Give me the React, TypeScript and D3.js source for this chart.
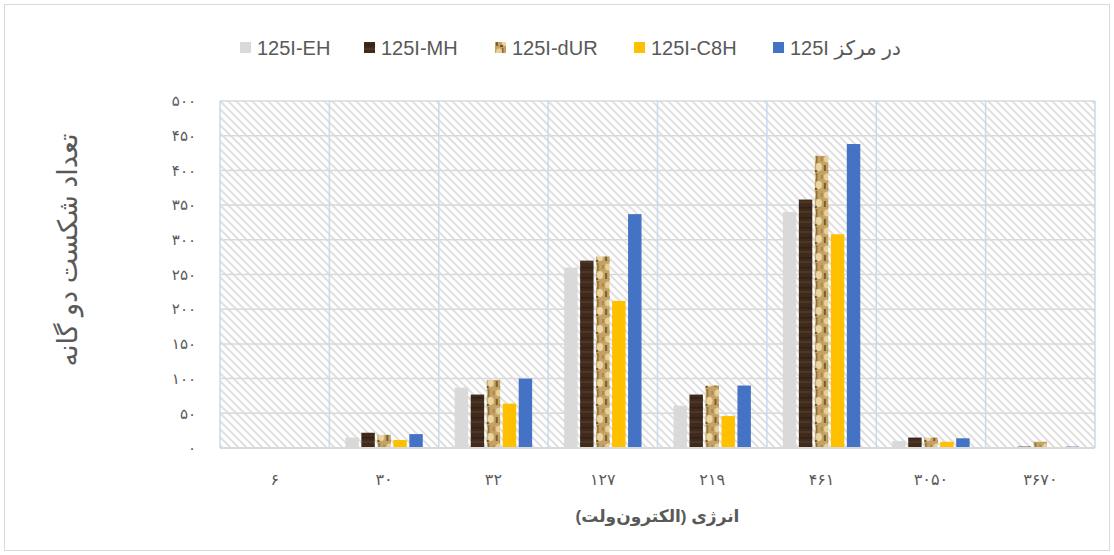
import React from "react";
import * as d3 from "d3";

// energies (x categories), written as in the reference
const categories = ["6", "30", "32", "127", "219", "461", "3050", "3670"];
const seriesNames = ["125I-EH", "125I-MH", "125I-dUR", "125I-C8H", "125I در مرکز"];

// double strand breaks per series
const eh = [0, 15, 87, 260, 61, 340, 10, 0.5];
const mh = [0, 22, 77, 270, 77, 358, 15, 2];
const dur = [0, 19, 98, 276, 90, 421, 15, 9];
const c8h = [0, 11.5, 64, 212, 46, 308, 9, 1.5];
const center = [0, 20, 100, 337, 90, 438, 14, 2];
const seriesValues = [eh, mh, dur, c8h, center];

const yTicks = [0, 50, 100, 150, 200, 250, 300, 350, 400, 450, 500];

const fills = ["#d9d9d9", "url(#brownTex)", "url(#durTex)", "#ffc000", "#4472c4"];

const faDigits = "۰۱۲۳۴۵۶۷۸۹";
const toFa = (s) => String(s).replace(/[0-9]/g, (d) => faDigits[+d]);

const W = 1114;
const H = 555;
const margin = { top: 101, right: 19, bottom: 107, left: 220 };
const innerW = W - margin.left - margin.right;
const innerH = H - margin.top - margin.bottom;

export default function App() {
  const x = d3.scaleBand().domain(categories).range([0, innerW]);
  const xi = d3
    .scaleBand()
    .domain(seriesNames)
    .range([0, x.bandwidth()])
    .paddingInner(0.16)
    .paddingOuter(1);
  const y = d3.scaleLinear().domain([0, 500]).range([innerH, 0]);

  const font = "'Liberation Sans', 'DejaVu Sans', sans-serif";
  const text = "#595959";

  // legend positions (x of the swatch)
  const legendX = [240, 364, 495, 634, 773];

  return (
    <svg width={W} height={H} style={{ position: "absolute", left: 0, top: 0 }}>
      <defs>
        <pattern id="hatch" width="8" height="8" patternUnits="userSpaceOnUse">
          <rect width="8" height="8" fill="#ffffff" />
          <path d="M-1,-1 L9,9 M-1,7 L1,9 M7,-1 L9,1" stroke="#e0e0e0" strokeWidth="2" />
        </pattern>
        <pattern id="brownTex" width="14" height="10" patternUnits="userSpaceOnUse">
          <rect width="14" height="10" fill="#3f2a1c" />
          <rect y="0" width="14" height="2" fill="#4d3626" />
          <rect y="6" width="14" height="1.5" fill="#32211a" />
        </pattern>
        <pattern id="durTex" width="14" height="18" patternUnits="userSpaceOnUse">
          <rect width="14" height="18" fill="#c4a263" />
          <ellipse cx="4" cy="4" rx="3" ry="3.5" fill="#e6cf98" />
          <ellipse cx="10" cy="12" rx="3" ry="4" fill="#ead6a2" />
          <rect x="7" y="0" width="1.5" height="8" fill="#8a6a3a" />
          <rect x="1" y="10" width="2" height="6" fill="#7d5e32" />
          <rect x="12" y="2" width="1.5" height="4" fill="#a48148" />
          <rect x="5" y="15" width="3" height="2" fill="#72542b" />
        </pattern>
      </defs>

      <rect x={4.5} y={4.5} width={W - 9} height={H - 9} fill="#fff" stroke="#d9d9d9" />

      {/* legend */}
      {seriesNames.map((s, i) => (
        <g key={s} transform={`translate(${legendX[i]},48)`}>
          <rect x={0} y={-6} width={11} height={11} fill={fills[i]} />
          <text
            x={17}
            y={0}
            dy="0.35em"
            fontFamily={font}
            fontSize={20}
            fill={text}
            direction="ltr"
            style={{ unicodeBidi: "plaintext" }}
          >
            {i === 4 ? "125I در مرکز" : s}
          </text>
        </g>
      ))}

      <g transform={`translate(${margin.left},${margin.top})`}>
        <rect width={innerW} height={innerH} fill="url(#hatch)" />

        {yTicks.map((t) =>
          t === 0 ? null : (
            <line key={t} x1={0} x2={innerW} y1={y(t)} y2={y(t)} stroke="#d9d9d9" strokeWidth={1.5} />
          )
        )}

        {categories.concat(["end"]).map((c, i) => (
          <line
            key={c}
            x1={i * x.step()}
            x2={i * x.step()}
            y1={0}
            y2={innerH}
            stroke="#c6dbf0"
            strokeWidth={1.5}
          />
        ))}

        {yTicks.map((t) => (
          <text
            key={t}
            x={-24}
            y={y(t)}
            dy="0.35em"
            textAnchor="end"
            fontFamily={font}
            fontSize={15}
            fill={text}
          >
            {toFa(t)}
          </text>
        ))}

        {categories.map((c, ci) => (
          <g key={c} transform={`translate(${x(c)},0)`}>
            {seriesValues.map((vals, si) => (
              <rect
                key={si}
                x={xi(seriesNames[si])}
                y={y(vals[ci])}
                width={xi.bandwidth()}
                height={innerH - y(vals[ci])}
                fill={fills[si]}
              />
            ))}
            <text
              x={x.bandwidth() / 2}
              y={innerH + 31}
              dy="0.35em"
              textAnchor="middle"
              fontFamily={font}
              fontSize={16}
              fill={text}
            >
              {toFa(c)}
            </text>
          </g>
        ))}

        <line x1={0} x2={innerW} y1={innerH} y2={innerH} stroke="#d9d9d9" strokeWidth={2} />

        <text
          x={innerW / 2}
          y={innerH + 68}
          dy="0.35em"
          textAnchor="middle"
          fontFamily={font}
          fontSize={17}
          fontWeight="bold"
          fill={text}
        >
          انرژی (الکترون‌ولت)
        </text>
      </g>

      <text
        transform="translate(68,250) rotate(-90)"
        textAnchor="middle"
        dy="0.35em"
        fontFamily={font}
        fontSize={27}
        fill={text}
      >
        تعداد شکست دو گانه
      </text>
    </svg>
  );
}
